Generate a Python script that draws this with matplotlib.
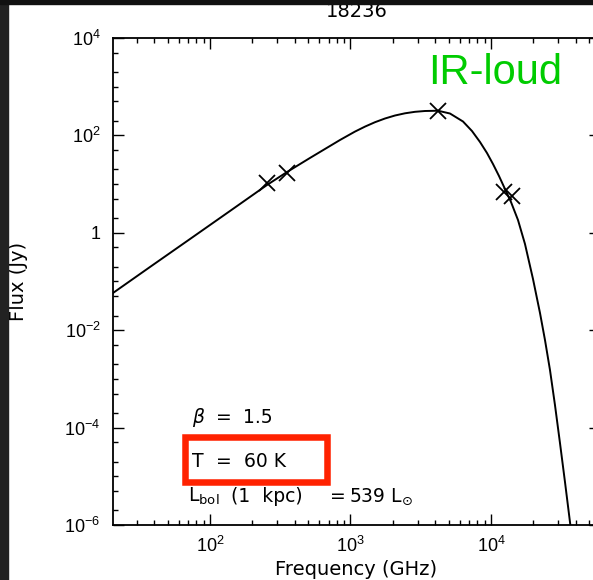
import numpy as np
import matplotlib
matplotlib.use('Agg')
import matplotlib.pyplot as plt
from matplotlib.patches import Rectangle
from matplotlib.ticker import FixedLocator, FixedFormatter, LogLocator, NullFormatter

# Model SED curve (GHz, Jy)
freq_curve = [20.4, 37.4, 72.1, 138.8, 254.5, 353.2, 514.7, 842.1, 1076, 1269,
              1494, 1760, 2074, 2443, 2879, 3390, 4197, 5107, 6321, 7325,
              8352, 9366, 10330, 11400, 12580, 13880, 15570, 17460, 19910,
              22330, 24230, 26300, 28540, 30980, 33630, 36500, 37710]
flux_curve = [0.0581, 0.1986, 0.746, 2.805, 9.59, 17.7, 34.4, 80.5, 119.7, 151.6,
              186.6, 222.3, 256.2, 284.3, 305, 317, 321, 281.5, 193, 123,
              73.2, 43.5, 25.9, 14.7, 7.93, 4.29, 1.83, 0.589, 0.1125,
              0.02254, 6.29e-3, 1.524e-3, 2.91e-4, 4.83e-5, 7.64e-6, 1.15e-6, 5.4e-7]

# Observed fluxes (crosses)
freq_obs = [253, 355, 4220, 12400, 14000]
flux_obs = [10.4, 16.7, 321, 7.0, 5.7]

xtick_vals = [1e2, 1e3, 1e4]
xtick_labels = [r'$\mathregular{10^{2}}$', r'$\mathregular{10^{3}}$', r'$\mathregular{10^{4}}$']
ytick_vals = [1e-6, 1e-4, 1e-2, 1, 1e2, 1e4]
ytick_labels = [r'$\mathregular{10^{-6}}$', r'$\mathregular{10^{-4}}$', r'$\mathregular{10^{-2}}$',
                '1', r'$\mathregular{10^{2}}$', r'$\mathregular{10^{4}}$']

title = '18236'

fig = plt.figure(figsize=(5.93, 5.80), dpi=100)
ax = fig.add_axes([113/593., 55/580., 487/593., 487/580.])

ax.plot(freq_curve, flux_curve, color='black', linewidth=1.4)
ax.plot(freq_obs, flux_obs, 'x', color='black', markersize=12, markeredgewidth=1.3)

ax.set_xscale('log')
ax.set_yscale('log')
ax.set_xlim(20.4, 5.97e4)
ax.set_ylim(1e-6, 1e4)

ax.xaxis.set_major_locator(FixedLocator(xtick_vals))
ax.xaxis.set_major_formatter(FixedFormatter(xtick_labels))
ax.xaxis.set_minor_locator(LogLocator(base=10, subs=np.arange(2, 10)))
ax.xaxis.set_minor_formatter(NullFormatter())
ax.yaxis.set_major_locator(FixedLocator(ytick_vals))
ax.yaxis.set_major_formatter(FixedFormatter(ytick_labels))
yminor = [m*10.0**k for k in range(-6, 4) for m in (2, 5)] + [10.0**k for k in (-5, -3, -1, 1, 3)]
ax.yaxis.set_minor_locator(FixedLocator(yminor))
ax.yaxis.set_minor_formatter(NullFormatter())

ax.tick_params(which='both', direction='in', top=True, right=True, width=1.0)
ax.tick_params(which='major', length=8, labelsize=13)
ax.tick_params(which='minor', length=3.8)
ax.tick_params(axis='x', which='major', pad=8)
ax.tick_params(axis='y', which='major', pad=9)
for lab in ax.get_xticklabels() + ax.get_yticklabels():
    lab.set_fontfamily('Liberation Sans')
for axis in ['top', 'bottom', 'left', 'right']:
    ax.spines[axis].set_linewidth(1.3)

ax.set_title(title, fontsize=14, family='DejaVu Sans', pad=15)
ax.set_xlabel('Frequency (GHz)', fontsize=14, family='DejaVu Sans')
ax.set_ylabel('Flux (Jy)', fontsize=14, family='DejaVu Sans')
ax.xaxis.set_label_coords(0.5, -0.072)
ax.yaxis.set_label_coords(-0.175, 0.5)

# annotation block (IDL-like spacing: pieces placed separately)
kw = dict(transform=ax.transAxes, fontsize=13.5, family='DejaVu Sans')
ax.text(0.1622, 0.2094, r'$\beta$', **kw)
ax.text(0.2116, 0.2094, '=', **kw)
ax.text(0.2669, 0.2094, '1.5', **kw)
ax.text(0.1622, 0.1191, 'T', **kw)
ax.text(0.2116, 0.1191, '=', **kw)
ax.text(0.2700, 0.1191, '60 K', **kw)
ax.text(0.1540, 0.0472, r'L$_{\rm bol}$', **kw)
ax.text(0.2423, 0.0472, '(1  kpc)', **kw)
ax.text(0.4456, 0.0472, '=', **kw)
ax.text(0.4836, 0.0472, r'539 L$_{\odot}$', **kw)

ax.text(0.6468, 0.905, 'IR-loud', transform=ax.transAxes, fontsize=30,
        family='Liberation Sans', color='#00cc00')

ax.add_patch(Rectangle((0.1478, 0.0893), 0.2906, 0.092, transform=ax.transAxes,
                       fill=False, edgecolor='#ff2200', linewidth=4.7, clip_on=False))

# dark frame around the screenshot
fig.add_artist(Rectangle((0, 0), 8/593., 1, transform=fig.transFigure,
                         color='#222222', zorder=10))
fig.add_artist(Rectangle((0, 1-4/580.), 1, 4/580., transform=fig.transFigure,
                         color='#111111', zorder=10))

fig.savefig('out.png', dpi=100)
